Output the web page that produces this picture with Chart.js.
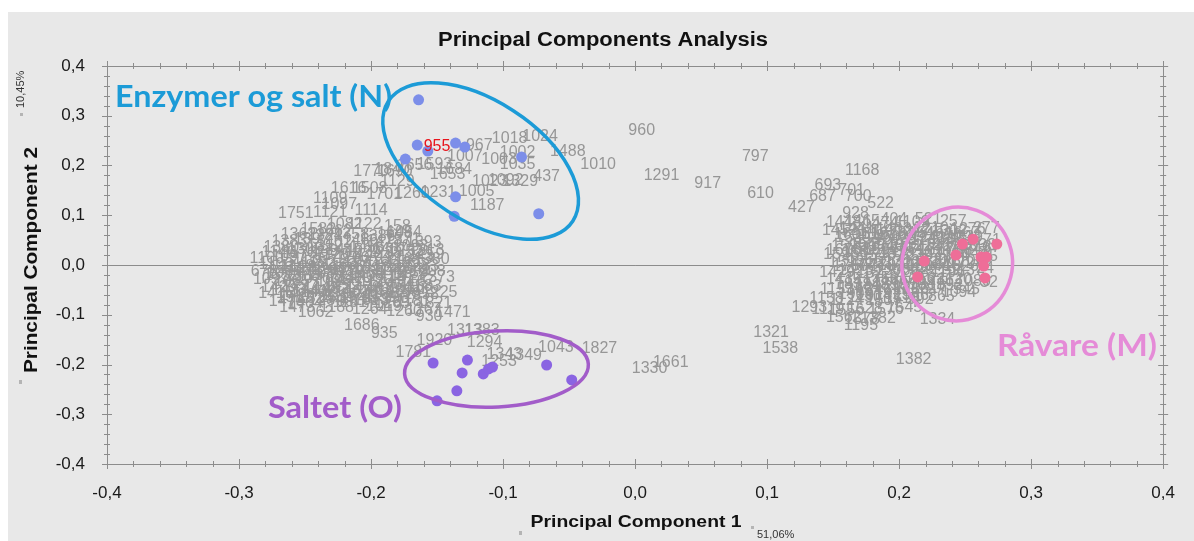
<!DOCTYPE html>
<html>
<head>
<meta charset="utf-8">
<title>Principal Components Analysis</title>
<script src="https://cdn.jsdelivr.net/npm/chart.js@4.4.1/dist/chart.umd.min.js"></script>
<style>
  html, body { margin: 0; padding: 0; background: #ffffff; }
  canvas { display: block; }
</style>
</head>
<body>
<canvas id="pca" width="1194" height="541"></canvas>
<script>
// ---------------- Data ----------------
// Sample scores [PC1, PC2, sample id]
const labelsN = [
  [0.005, 0.271, '960'], [0.091, 0.217, '797'], [0.020, 0.179, '1291'], [0.055, 0.163, '917'],
  [0.095, 0.143, '610'], [-0.028, 0.201, '1010'], [-0.051, 0.227, '1488'], [-0.067, 0.177, '437'],
  [-0.072, 0.259, '1024'], [-0.095, 0.255, '1018'], [-0.118, 0.241, '967'], [-0.089, 0.225, '1002'],
  [-0.129, 0.217, '1007'], [-0.103, 0.211, '1003'], [-0.089, 0.201, '1035'], [-0.142, 0.181, '1653'],
  [-0.137, 0.191, '1684'], [-0.152, 0.201, '1593'], [-0.167, 0.199, '1656'], [-0.110, 0.167, '1023'],
  [-0.098, 0.170, '1092'], [-0.120, 0.147, '1005'], [-0.112, 0.119, '1187'], [-0.087, 0.167, '1329'],
  [-0.149, 0.145, '1231'], [-0.169, 0.143, '1260'], [-0.184, 0.191, '1840'], [-0.200, 0.187, '1770'],
  [-0.182, 0.187, '1690'], [-0.180, 0.167, '1129'], [-0.217, 0.153, '1616'], [-0.201, 0.153, '1508'],
  [-0.190, 0.141, '1701'], [-0.231, 0.133, '1109'], [-0.224, 0.121, '1097'], [-0.257, 0.103, '1751'],
  [-0.231, 0.105, '1121'], [-0.200, 0.109, '1114'], [-0.220, 0.082, '1082'], [-0.205, 0.082, '1122'],
  [-0.240, 0.072, '1582'], [-0.228, 0.068, '1662'], [-0.180, 0.078, '158'], [-0.175, 0.066, '1054']
];

const labelsLeft = [
  [-0.262, 0.048, '1383'], [-0.245, 0.052, '1397'], [-0.228, 0.046, '1402'], [-0.208, 0.050, '1466'],
  [-0.190, 0.048, '1473'], [-0.176, 0.052, '1571'], [-0.160, 0.046, '1393'], [-0.235, 0.060, '1324'],
  [-0.215, 0.062, '1358'], [-0.195, 0.058, '1386'], [-0.182, 0.064, '1648'], [-0.255, 0.062, '1362'],
  [-0.268, 0.034, '1380'], [-0.250, 0.030, '1305'], [-0.235, 0.036, '1312'], [-0.220, 0.028, '1445'],
  [-0.203, 0.034, '1456'], [-0.186, 0.030, '1467'], [-0.170, 0.036, '1093'], [-0.158, 0.028, '1213'],
  [-0.270, 0.024, '1146'], [-0.254, 0.022, '1173'], [-0.238, 0.026, '1189'], [-0.222, 0.020, '1201'],
  [-0.206, 0.024, '1229'], [-0.190, 0.022, '1238'], [-0.174, 0.026, '1252'], [-0.158, 0.020, '1259'],
  [-0.279, 0.012, '1100'], [-0.262, 0.016, '1097'], [-0.246, 0.010, '1135'], [-0.230, 0.018, '1178'],
  [-0.214, 0.012, '1190'], [-0.198, 0.016, '1204'], [-0.182, 0.010, '1216'], [-0.166, 0.016, '1243'],
  [-0.154, 0.010, '1380'], [-0.272, 0.000, '1106'], [-0.256, -0.004, '1148'], [-0.240, 0.002, '1152'],
  [-0.224, -0.002, '1163'], [-0.208, 0.004, '1170'], [-0.192, -0.004, '1185'], [-0.176, 0.002, '1199'],
  [-0.162, -0.004, '1283'], [-0.264, -0.008, '1271'], [-0.248, -0.006, '1288'], [-0.232, -0.010, '1296'],
  [-0.216, -0.006, '1309'], [-0.200, -0.010, '1327'], [-0.184, -0.006, '1335'], [-0.168, -0.010, '1341'],
  [-0.281, -0.014, '678'], [-0.266, -0.018, '1056'], [-0.250, -0.012, '1071'],
  [-0.234, -0.018, '1088'], [-0.218, -0.012, '1119'], [-0.202, -0.018, '1131'], [-0.186, -0.012, '1144'],
  [-0.170, -0.018, '1159'], [-0.157, -0.014, '1208'], [-0.268, -0.022, '1352'], [-0.252, -0.024, '1368'],
  [-0.236, -0.022, '1375'], [-0.220, -0.026, '1389'], [-0.204, -0.022, '1408'], [-0.188, -0.024, '1413'],
  [-0.172, -0.022, '1427'], [-0.276, -0.030, '1057'], [-0.260, -0.034, '1065'],
  [-0.244, -0.028, '1076'], [-0.228, -0.034, '1098'], [-0.212, -0.028, '1110'], [-0.196, -0.034, '1127'],
  [-0.180, -0.028, '1141'], [-0.165, -0.034, '1167'], [-0.150, -0.026, '1373'], [-0.270, -0.046, '1420'],
  [-0.254, -0.044, '1437'], [-0.238, -0.048, '1448'], [-0.222, -0.042, '1459'], [-0.206, -0.048, '1478'],
  [-0.190, -0.042, '1496'], [-0.174, -0.046, '1511'], [-0.160, -0.044, '1583'], [-0.262, -0.052, '1433'],
  [-0.246, -0.054, '1441'], [-0.230, -0.050, '1452'], [-0.214, -0.054, '1463'], [-0.198, -0.050, '1481'],
  [-0.182, -0.052, '1489'], [-0.166, -0.050, '1502'], [-0.272, -0.058, '1415'],
  [-0.256, -0.062, '1426'], [-0.240, -0.056, '1402'], [-0.224, -0.062, '1315'], [-0.208, -0.058, '1010'],
  [-0.192, -0.060, '1186'], [-0.176, -0.056, '1158'], [-0.162, -0.060, '1958'], [-0.148, -0.056, '1225'],
  [-0.258, -0.066, '1517'], [-0.242, -0.068, '1524'], [-0.226, -0.066, '1538'], [-0.210, -0.068, '1546'],
  [-0.194, -0.066, '1559'], [-0.178, -0.068, '1567'],
  [-0.264, -0.074, '1470'], [-0.250, -0.078, '1404'], [-0.234, -0.072, '1284'], [-0.216, -0.076, '1161'],
  [-0.200, -0.072, '1013'], [-0.184, -0.078, '1265'], [-0.168, -0.074, '1181'], [-0.152, -0.078, '1821'],
  [-0.256, -0.086, '1473'], [-0.226, -0.086, '1188'], [-0.190, -0.084, '1019'],
  [-0.242, -0.096, '1062'], [-0.201, -0.090, '1264'], [-0.175, -0.094, '1260'], [-0.160, -0.090, '1267'],
  [-0.156, -0.103, '930'], [-0.138, -0.096, '1471'], [-0.207, -0.121, '1686'], [-0.190, -0.137, '935']
];

const labelsRight = [
  [0.172, 0.189, '1168'], [0.146, 0.159, '693'], [0.164, 0.149, '701'], [0.142, 0.137, '687'],
  [0.169, 0.137, '700'], [0.126, 0.115, '427'], [0.186, 0.123, '522'], [0.167, 0.103, '928'],
  [0.158, 0.086, '1448'], [0.172, 0.088, '1465'], [0.186, 0.084, '1474'], [0.196, 0.092, '404'],
  [0.210, 0.086, '1109'], [0.222, 0.092, '521'], [0.241, 0.088, '257'], [0.155, 0.070, '1452'],
  [0.168, 0.074, '1441'], [0.182, 0.068, '1459'], [0.196, 0.072, '1403'], [0.210, 0.068, '1277'],
  [0.224, 0.074, '1210'], [0.238, 0.068, '1302'], [0.252, 0.072, '1276'], [0.266, 0.074, '277'],
  [0.164, 0.062, '1601'], [0.178, 0.062, '1612'], [0.192, 0.064, '1623'], [0.206, 0.060, '1634'],
  [0.220, 0.064, '1645'], [0.234, 0.060, '1656'], [0.248, 0.064, '1667'],
  [0.165, 0.055, '1520'], [0.180, 0.052, '1592'], [0.194, 0.056, '1502'], [0.208, 0.050, '1312'],
  [0.222, 0.056, '1241'], [0.236, 0.052, '1305'], [0.250, 0.056, '1339'], [0.264, 0.050, '1171'],
  [0.162, 0.038, '1599'], [0.176, 0.042, '1569'], [0.190, 0.036, '1540'], [0.204, 0.040, '1361'],
  [0.218, 0.036, '1224'], [0.232, 0.040, '1257'], [0.246, 0.036, '1193'], [0.260, 0.040, '1033'],
  [0.270, 0.034, '37'], [0.158, 0.028, '1678'], [0.172, 0.030, '1689'], [0.186, 0.028, '1694'],
  [0.200, 0.030, '1705'], [0.214, 0.028, '1716'], [0.228, 0.030, '1727'], [0.242, 0.028, '1738'],
  [0.256, 0.030, '1749'], [0.156, 0.020, '1595'], [0.170, 0.024, '1587'], [0.184, 0.018, '1548'],
  [0.198, 0.022, '1378'], [0.212, 0.018, '1239'], [0.226, 0.024, '1220'], [0.240, 0.018, '1154'],
  [0.254, 0.022, '1047'], [0.268, 0.016, '25'], [0.160, 0.004, '1593'], [0.174, 0.008, '1555'],
  [0.188, 0.002, '1537'], [0.202, 0.006, '1363'], [0.216, 0.002, '1232'], [0.230, 0.008, '1206'],
  [0.244, 0.002, '1172'], [0.258, 0.006, '1062'], [0.163, -0.004, '1760'], [0.177, -0.002, '1771'],
  [0.191, -0.004, '1782'], [0.205, -0.002, '1793'], [0.219, -0.004, '1804'], [0.233, -0.002, '1815'],
  [0.247, -0.004, '1826'], [0.153, -0.016, '1429'], [0.167, -0.012, '1425'],
  [0.181, -0.018, '1522'], [0.195, -0.012, '1305'], [0.209, -0.016, '1268'], [0.223, -0.010, '1221'],
  [0.237, -0.016, '1196'], [0.251, -0.012, '1137'], [0.265, -0.008, '24'], [0.158, -0.030, '1435'],
  [0.172, -0.034, '1412'], [0.186, -0.028, '1356'], [0.200, -0.032, '1366'], [0.214, -0.028, '1256'],
  [0.228, -0.032, '1236'], [0.242, -0.030, '1120'], [0.256, -0.034, '1080'], [0.268, -0.036, '32'],
  [0.165, -0.040, '1837'], [0.179, -0.042, '1848'], [0.193, -0.040, '1859'], [0.207, -0.042, '1870'],
  [0.221, -0.040, '1881'], [0.235, -0.042, '1892'],
  [0.153, -0.050, '1153'], [0.167, -0.048, '1162'], [0.181, -0.052, '1246'], [0.195, -0.046, '1298'],
  [0.209, -0.050, '1286'], [0.223, -0.048, '1317'], [0.245, -0.056, '1094'], [0.251, -0.050, '545'],
  [0.167, -0.060, '1903'], [0.181, -0.062, '1914'], [0.195, -0.060, '1925'], [0.209, -0.062, '1936'],
  [0.145, -0.068, '1158'], [0.160, -0.072, '1124'], [0.174, -0.066, '1150'], [0.188, -0.072, '1507'],
  [0.202, -0.068, '1518'], [0.216, -0.070, '992'], [0.232, -0.064, '865'], [0.132, -0.086, '1293'],
  [0.146, -0.090, '1119'], [0.160, -0.092, '1556'], [0.174, -0.088, '1528'], [0.190, -0.090, '1576'],
  [0.204, -0.086, '1545'], [0.158, -0.105, '1562'], [0.172, -0.109, '1578'], [0.184, -0.107, '1382'],
  [0.171, -0.121, '1195'], [0.229, -0.109, '1334'], [0.211, -0.191, '1382']
];

const labelsO = [
  [-0.152, -0.151, '1920'], [-0.129, -0.131, '1313'], [-0.116, -0.131, '1383'], [-0.114, -0.155, '1294'],
  [-0.168, -0.177, '1781'], [-0.099, -0.181, '1343'], [-0.103, -0.195, '1253'], [-0.084, -0.183, '1349'],
  [-0.060, -0.167, '1043'], [-0.027, -0.169, '1827'], [0.011, -0.209, '1330'], [0.027, -0.197, '1661'],
  [0.103, -0.135, '1321'], [0.110, -0.169, '1538']
];

// Samples belonging to the three marked groups
const pointsN = [
  [-0.164, 0.332], [-0.165, 0.241], [-0.157, 0.229], [-0.174, 0.213], [-0.136, 0.245],
  [-0.129, 0.237], [-0.086, 0.217], [-0.136, 0.137], [-0.137, 0.098], [-0.073, 0.103]
];
const pointsO = [
  [-0.153, -0.197], [-0.127, -0.191], [-0.131, -0.217], [-0.135, -0.253], [-0.150, -0.273],
  [-0.115, -0.219], [-0.111, -0.209], [-0.108, -0.205], [-0.067, -0.201], [-0.048, -0.231]
];
const pointsM = [
  [0.219, 0.008], [0.214, -0.024], [0.243, 0.020], [0.248, 0.042], [0.256, 0.052],
  [0.274, 0.042], [0.262, 0.016], [0.266, 0.016], [0.264, -0.002], [0.265, -0.026]
];

// Highlighted sample
const highlighted = [-0.150, 0.237, '955'];

// Axis ticks
const axisTicks = [-0.4, -0.3, -0.2, -0.1, 0.0, 0.1, 0.2, 0.3, 0.4];
const explained = { pc1: '51,06%', pc2: '10,45%' };

// ---------------- Drawing ----------------
const BG = '#e8e8e8';
const AXIS = '#8c8c8c';
const LABEL_GREY = '#969696';
const LABEL_FONT = '16px "Liberation Sans", Arial, sans-serif';

const allLabels = [].concat(labelsN, labelsLeft, labelsRight, labelsO)
  .map(r => ({ x: r[0], y: r[1], t: r[2] }));
const toXY = arr => arr.map(r => ({ x: r[0], y: r[1] }));

// Group outlines: centre in data units, radii in pixels, rotation in degrees
const groupOutlines = [
  { cx: -0.117, cy: 0.209, rx: 110, ry: 60, rot: 33, color: '#1c9bd7', name: 'Enzymer og salt (N)',
    textLeft: 115, textBase: 107, textWidth: 277 },
  { cx: -0.105, cy: -0.209, rx: 92, ry: 38, rot: -3, color: '#a25cc9', name: 'Saltet (O)',
    textLeft: 268, textBase: 418, textWidth: 134 },
  { cx: 0.244, cy: 0.002, rx: 55, ry: 57, rot: 20, color: '#e58bd7', name: 'Råvare (M)',
    textLeft: 997, textBase: 356, textWidth: 160 }
];

// Draws text squeezed/stretched horizontally to an exact width
function fitText(ctx, text, x, y, width, font, color, align) {
  ctx.save();
  ctx.font = font;
  ctx.fillStyle = color;
  ctx.textBaseline = 'alphabetic';
  ctx.textAlign = 'left';
  const w = ctx.measureText(text).width;
  const left = align === 'center' ? x - width / 2 : x;
  ctx.translate(left, y);
  ctx.scale(width / w, 1);
  ctx.fillText(text, 0, 0);
  ctx.restore();
}

function fmt(v) {
  if (Math.abs(v) < 1e-9) return '0,0';
  return v.toFixed(1).replace('.', ',');
}

const pcaDecor = {
  id: 'pcaDecor',
  beforeDraw(chart) {
    const ctx = chart.ctx;
    ctx.save();
    ctx.fillStyle = '#ffffff';
    ctx.fillRect(0, 0, chart.width, chart.height);
    ctx.fillStyle = BG;
    ctx.fillRect(8, 12, chart.width - 8, chart.height - 12);
    ctx.restore();
  },
  beforeDatasetsDraw(chart) {
    const ctx = chart.ctx;
    const xs = chart.scales.x, ys = chart.scales.y;
    const a = chart.chartArea;
    ctx.save();
    // zero line
    ctx.strokeStyle = AXIS;
    ctx.lineWidth = 1;
    const y0 = Math.round(ys.getPixelForValue(0)) + 0.5;
    ctx.beginPath();
    ctx.moveTo(a.left, y0); ctx.lineTo(a.right, y0);
    ctx.stroke();
    // frame
    ctx.strokeRect(Math.round(a.left) + 0.5, Math.round(a.top) + 0.5,
      Math.round(a.right - a.left), Math.round(a.bottom - a.top));
    // tick marks (major every 0.1, minor every 0.02)
    ctx.beginPath();
    for (let i = -20; i <= 20; i++) {
      const v = i * 0.02;
      const major = i % 5 === 0;
      const len = major ? 5 : 3;
      const px = Math.round(xs.getPixelForValue(v)) + 0.5;
      ctx.moveTo(px, a.bottom - len); ctx.lineTo(px, a.bottom + len);
      ctx.moveTo(px, a.top - len); ctx.lineTo(px, a.top + len);
      const py = Math.round(ys.getPixelForValue(v)) + 0.5;
      ctx.moveTo(a.left - len, py); ctx.lineTo(a.left + len, py);
      ctx.moveTo(a.right - len, py); ctx.lineTo(a.right + len, py);
    }
    ctx.stroke();
    // sample id labels
    const meta = chart.getDatasetMeta(0);
    ctx.font = LABEL_FONT;
    ctx.fillStyle = LABEL_GREY;
    ctx.textAlign = 'center';
    ctx.textBaseline = 'middle';
    meta.data.forEach((el, i) => {
      ctx.fillText(chart.data.datasets[0].data[i].t, el.x, el.y);
    });
    ctx.restore();
  },
  afterDatasetsDraw(chart) {
    const ctx = chart.ctx;
    const xs = chart.scales.x, ys = chart.scales.y;
    // highlighted sample
    ctx.save();
    ctx.font = LABEL_FONT;
    ctx.fillStyle = '#e8141c';
    ctx.textAlign = 'center';
    ctx.textBaseline = 'middle';
    ctx.fillText(highlighted[2], xs.getPixelForValue(highlighted[0]), ys.getPixelForValue(highlighted[1]));
    ctx.restore();
    // group outlines and names
    groupOutlines.forEach(g => {
      ctx.save();
      ctx.strokeStyle = g.color;
      ctx.lineWidth = 3.5;
      ctx.beginPath();
      ctx.ellipse(xs.getPixelForValue(g.cx), ys.getPixelForValue(g.cy), g.rx, g.ry,
        g.rot * Math.PI / 180, 0, Math.PI * 2);
      ctx.stroke();
      ctx.restore();
      fitText(ctx, g.name, g.textLeft, g.textBase, g.textWidth,
        'bold 30px Lato, "Open Sans", sans-serif', g.color);
    });
  },
  afterDraw(chart) {
    const ctx = chart.ctx;
    const a = chart.chartArea;
    const cx = (a.left + a.right) / 2;
    // chart title
    fitText(ctx, 'Principal Components Analysis', 603, 46, 330,
      'bold 20px "Liberation Sans", Arial, sans-serif', '#111111', 'center');
    // x axis title and explained variance
    fitText(ctx, 'Principal Component 1', cx + 1, 527, 211,
      'bold 17px "Liberation Sans", Arial, sans-serif', '#111111', 'center');
    ctx.save();
    ctx.font = '11px "Liberation Sans", Arial, sans-serif';
    ctx.fillStyle = '#333333';
    ctx.textBaseline = 'alphabetic';
    ctx.fillText(explained.pc1, 757, 538);
    ctx.fillStyle = '#b4b4b4';
    ctx.fillRect(751, 526, 3, 3);
    ctx.fillRect(519, 531, 3, 4);
    ctx.restore();
    // y axis title and explained variance
    ctx.save();
    ctx.translate(37, 260);
    ctx.rotate(-Math.PI / 2);
    fitText(ctx, 'Principal Component 2', 0, 0, 226,
      'bold 18px "Liberation Sans", Arial, sans-serif', '#111111', 'center');
    ctx.restore();
    ctx.save();
    ctx.translate(24, 108);
    ctx.rotate(-Math.PI / 2);
    ctx.font = '11px "Liberation Sans", Arial, sans-serif';
    ctx.fillStyle = '#333333';
    ctx.fillText(explained.pc2, 0, 0);
    ctx.restore();
    ctx.save();
    ctx.fillStyle = '#b4b4b4';
    ctx.fillRect(20, 113, 3, 3);
    ctx.fillRect(19, 380, 3, 4);
    ctx.restore();
  }
};

const tickFont = { family: '"Liberation Sans", Arial, sans-serif', size: 17 };

new Chart(document.getElementById('pca'), {
  type: 'scatter',
  data: {
    datasets: [
      { label: 'samples', data: allLabels, pointRadius: 0, pointHoverRadius: 0 },
      { label: 'N', data: toXY(pointsN), pointRadius: 5.5, backgroundColor: '#7c8ee9', borderWidth: 0 },
      { label: 'O', data: toXY(pointsO), pointRadius: 5.5, backgroundColor: '#8a64e2', borderWidth: 0 },
      { label: 'M', data: toXY(pointsM), pointRadius: 5.5, backgroundColor: '#ee6e98', borderWidth: 0 }
    ]
  },
  options: {
    responsive: false,
    animation: false,
    devicePixelRatio: 1,
    layout: { padding: { top: 66, right: 29, left: 0, bottom: 0 } },
    plugins: { legend: { display: false }, tooltip: { enabled: false }, title: { display: false } },
    events: [],
    scales: {
      x: {
        type: 'linear', min: -0.4, max: 0.4,
        afterBuildTicks: s => { s.ticks = axisTicks.map(v => ({ value: v })); },
        afterFit: s => { s.height = 77; },
        grid: { display: false, drawTicks: false },
        border: { display: false },
        ticks: { callback: fmt, font: tickFont, color: '#1a1a1a', padding: 19, maxRotation: 0 }
      },
      y: {
        type: 'linear', min: -0.4, max: 0.4,
        afterBuildTicks: s => { s.ticks = axisTicks.map(v => ({ value: v })); },
        afterFit: s => { s.width = 107; },
        grid: { display: false, drawTicks: false },
        border: { display: false },
        ticks: { callback: fmt, font: tickFont, color: '#1a1a1a', padding: 22 }
      }
    }
  },
  plugins: [pcaDecor]
});
</script>
</body>
</html>
